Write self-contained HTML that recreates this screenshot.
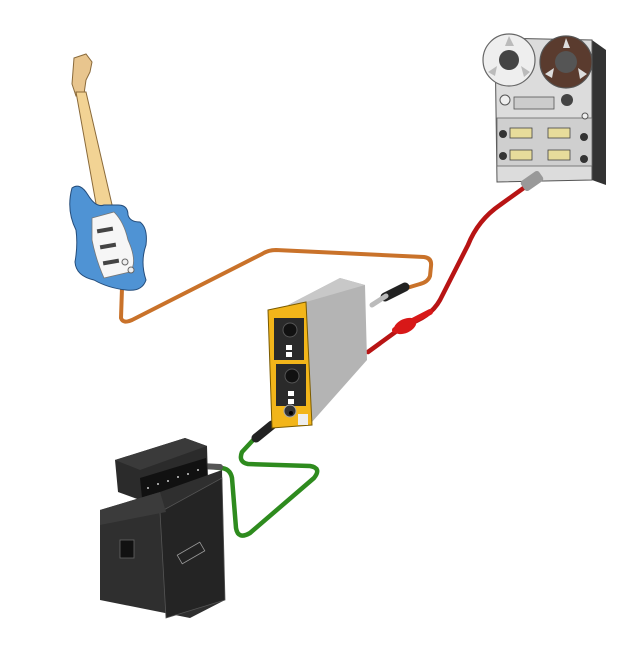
<!DOCTYPE html>
<html><head><meta charset="utf-8"><style>html,body{margin:0;padding:0;background:#fff}svg{display:block}</style></head>
<body>
<svg width="636" height="666" viewBox="0 0 636 666" xmlns="http://www.w3.org/2000/svg">
<!-- orange cable -->
<path d="M122,288 L121,318 Q123,324 132,320 L262,254 Q268,250 276,250 L424,257 Q432,258 431,266 L430,276 Q428,282 420,284 L400,290" fill="none" stroke="#c9722a" stroke-width="4" stroke-linecap="round" stroke-linejoin="round"/>
<path d="M405,287 L385,297" stroke="#222" stroke-width="9" stroke-linecap="round"/>
<path d="M386,296 L372,305" stroke="#bbb" stroke-width="5" stroke-linecap="round"/>
<!-- red cable -->
<path d="M532,182 L500,205 Q478,220 468,245 L440,300 Q430,318 405,325 L368,352" fill="none" stroke="#b81414" stroke-width="4.5" stroke-linecap="round" stroke-linejoin="round"/>
<ellipse cx="405" cy="326" rx="12" ry="7" transform="rotate(-25 405 326)" fill="#d81818"/>
<path d="M395,330 L430,312" stroke="#d81818" stroke-width="6" stroke-linecap="round"/>
<!-- tape deck -->
<polygon points="592,40 606,50 606,185 592,180" fill="#333"/>
<polygon points="495,38 592,40 592,180 497,182" fill="#dcdcdc" stroke="#555" stroke-width="1"/>
<rect x="497" y="118" width="95" height="48" fill="#cfcfcf" stroke="#666" stroke-width="0.8"/>
<rect x="510" y="128" width="22" height="10" fill="#e7dc9b" stroke="#444" stroke-width="0.8"/>
<rect x="548" y="128" width="22" height="10" fill="#e7dc9b" stroke="#444" stroke-width="0.8"/>
<rect x="510" y="150" width="22" height="10" fill="#e7dc9b" stroke="#444" stroke-width="0.8"/>
<rect x="548" y="150" width="22" height="10" fill="#e7dc9b" stroke="#444" stroke-width="0.8"/>
<circle cx="503" cy="134" r="4" fill="#333"/><circle cx="503" cy="156" r="4" fill="#333"/>
<circle cx="584" cy="137" r="4" fill="#333"/><circle cx="584" cy="159" r="4" fill="#333"/>
<rect x="514" y="97" width="40" height="12" fill="#ccc" stroke="#555" stroke-width="0.8"/>
<circle cx="505" cy="100" r="5" fill="#eee" stroke="#555"/>
<circle cx="567" cy="100" r="6" fill="#444"/>
<circle cx="585" cy="116" r="3" fill="#eee" stroke="#555"/>
<circle cx="509" cy="60" r="26" fill="#eee" stroke="#666" stroke-width="1.2"/>
<circle cx="509" cy="60" r="10" fill="#444"/>
<path d="M509,36 L505,46 L514,46 Z M488,72 L497,66 L495,76 Z M530,72 L521,66 L524,77 Z" fill="#bbb"/>
<circle cx="566" cy="62" r="26" fill="#5a3b2e" stroke="#555" stroke-width="1.2"/>
<circle cx="566" cy="62" r="11" fill="#555"/>
<path d="M566,38 L563,48 L570,48 Z M545,74 L554,68 L552,78 Z M587,74 L578,68 L580,79 Z" fill="#ddd"/>
<rect x="521" y="175" width="22" height="12" rx="3" transform="rotate(-35 532 181)" fill="#999"/>
<!-- green cable -->
<path d="M255,438 L242,452 Q238,462 248,464 L310,466 Q322,468 314,478 L250,533 Q238,540 236,528 L232,478 Q230,468 220,468 L212,467" fill="none" stroke="#2e8b1e" stroke-width="4.5" stroke-linecap="round" stroke-linejoin="round"/>
<path d="M272,425 L256,438" stroke="#222" stroke-width="9" stroke-linecap="round"/>
<path d="M220,467 L200,466" stroke="#555" stroke-width="6" stroke-linecap="round"/>
<!-- module -->
<polygon points="288,305 340,278 365,285 367,360 312,422 306,302" fill="#b4b4b4"/>
<polygon points="288,305 340,278 365,285 306,302" fill="#c8c8c8"/>
<polygon points="268,310 306,302 312,425 272,428" fill="#f2b51a" stroke="#7a5a00" stroke-width="1"/>
<rect x="274" y="318" width="30" height="42" fill="#2a2a2a"/>
<rect x="276" y="364" width="30" height="42" fill="#2a2a2a"/>
<circle cx="290" cy="330" r="7" fill="#111" stroke="#555"/>
<circle cx="292" cy="376" r="7" fill="#111" stroke="#555"/>
<rect x="286" y="345" width="6" height="5" fill="#fff"/><rect x="286" y="352" width="6" height="5" fill="#fff"/>
<rect x="288" y="391" width="6" height="5" fill="#fff"/><rect x="288" y="399" width="6" height="5" fill="#fff"/>
<circle cx="290" cy="411" r="6" fill="#333" stroke="#aaa"/>
<circle cx="291" cy="413" r="2" fill="#000"/>
<rect x="298" y="414" width="10" height="11" fill="#eee"/>
<!-- guitar -->
<polygon points="74,58 86,54 92,62 90,72 86,80 84,94 76,96 72,84" fill="#e8c58e" stroke="#8a6a3a" stroke-width="1"/>
<polygon points="76,92 86,92 116,222 100,226" fill="#f2d394" stroke="#8a6a3a" stroke-width="1"/>
<path d="M72,188 Q80,182 88,195 Q96,208 104,205 L118,205 Q128,205 128,215 Q130,222 140,222 Q148,228 146,245 Q140,262 146,280 Q142,292 126,290 Q108,288 94,280 Q76,276 75,262 Q78,245 76,230 Q66,210 72,188 Z" fill="#4f93d4" stroke="#244c7a" stroke-width="1"/>
<path d="M92,218 L114,212 Q124,222 128,240 Q138,262 130,272 L104,278 Q96,260 92,240 Z" fill="#f6f6f6" stroke="#777" stroke-width="0.8"/>
<rect x="97" y="228" width="16" height="4" fill="#444" transform="rotate(-10 105 230)"/>
<rect x="100" y="244" width="16" height="4" fill="#444" transform="rotate(-10 108 246)"/>
<rect x="103" y="260" width="16" height="4" fill="#444" transform="rotate(-10 111 262)"/>
<circle cx="125" cy="262" r="3" fill="#eee" stroke="#666"/><circle cx="131" cy="270" r="3" fill="#eee" stroke="#666"/>
<!-- amp -->
<polygon points="115,460 185,438 207,446 208,480 140,500 118,492" fill="#2b2b2b"/>
<polygon points="115,460 185,438 207,446 140,470" fill="#3a3a3a"/>
<polygon points="140,478 206,458 208,480 142,498" fill="#111"/>
<g fill="#ccc"><circle cx="148" cy="488" r="1"/><circle cx="158" cy="484" r="1"/><circle cx="168" cy="481" r="1"/><circle cx="178" cy="477" r="1"/><circle cx="188" cy="474" r="1"/><circle cx="198" cy="470" r="1"/></g>
<polygon points="100,510 160,492 222,470 225,600 190,618 100,600" fill="#2f2f2f"/>
<polygon points="160,512 222,478 225,600 166,618" fill="#242424" stroke="#555" stroke-width="0.8"/>
<polygon points="100,510 160,492 166,512 100,525" fill="#3b3b3b"/>
<rect x="120" y="540" width="14" height="18" fill="#111" stroke="#666" stroke-width="0.8"/>
<rect x="178" y="548" width="26" height="10" fill="#222" stroke="#999" stroke-width="0.8" transform="rotate(-30 191 553)"/>
</svg>
</body></html>
